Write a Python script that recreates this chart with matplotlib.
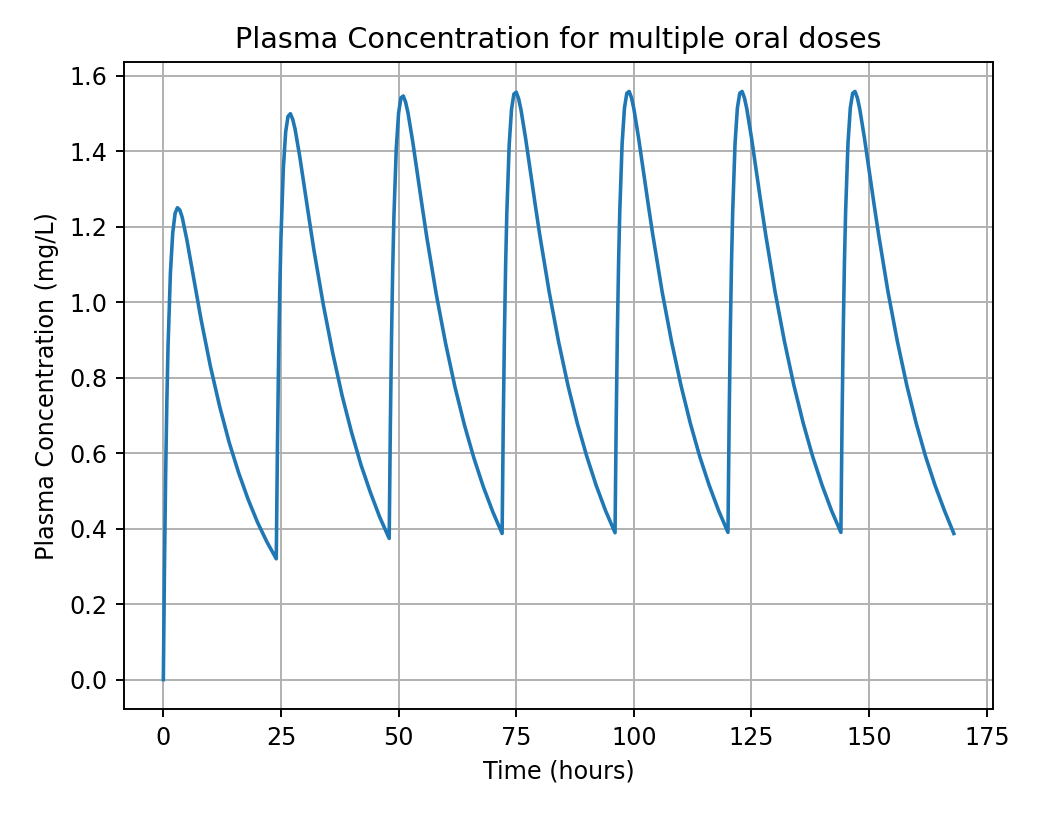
import numpy as np
import matplotlib
matplotlib.use("Agg")
import matplotlib.pyplot as plt

hours_after_dose = [0, 0.25, 0.5, 0.75, 1, 1.5, 2, 2.5, 3, 3.5, 4, 5, 6, 7, 8,
                    10, 12, 14, 16, 18, 20, 22, 24]

# one oral dose every 24 h
dose_times = [0, 24, 48, 72, 96, 120, 144]

# plasma concentration (mg/L) for each dosing interval
dose1_conc = [0.000, 0.309, 0.551, 0.739, 0.883, 1.077, 1.184, 1.235, 1.250, 1.244,
              1.225, 1.165, 1.095, 1.025, 0.955, 0.830, 0.722, 0.628, 0.548, 0.478,
              0.417, 0.365, 0.320]
dose2_conc = [0.320, 0.620, 0.853, 1.034, 1.171, 1.354, 1.451, 1.492, 1.499, 1.484,
              1.458, 1.385, 1.302, 1.219, 1.138, 0.993, 0.865, 0.752, 0.655, 0.569,
              0.496, 0.430, 0.374]
dose3_conc = [0.374, 0.676, 0.909, 1.089, 1.225, 1.406, 1.501, 1.541, 1.546, 1.529,
              1.501, 1.425, 1.339, 1.254, 1.171, 1.021, 0.890, 0.774, 0.674, 0.587,
              0.511, 0.445, 0.387]
dose4_conc = [0.387, 0.687, 0.921, 1.100, 1.236, 1.416, 1.511, 1.551, 1.556, 1.539,
              1.510, 1.433, 1.347, 1.261, 1.178, 1.027, 0.895, 0.779, 0.678, 0.591,
              0.514, 0.447, 0.389]
dose5_conc = [0.389, 0.690, 0.923, 1.103, 1.238, 1.419, 1.514, 1.553, 1.558, 1.541,
              1.512, 1.435, 1.348, 1.263, 1.180, 1.028, 0.896, 0.780, 0.679, 0.591,
              0.515, 0.448, 0.390]
dose6_conc = [0.390, 0.690, 0.923, 1.103, 1.238, 1.419, 1.514, 1.553, 1.558, 1.541,
              1.512, 1.435, 1.348, 1.263, 1.180, 1.028, 0.896, 0.780, 0.679, 0.591,
              0.515, 0.448, 0.390]
dose7_conc = [0.390, 0.690, 0.923, 1.103, 1.238, 1.419, 1.514, 1.553, 1.558, 1.541,
              1.512, 1.435, 1.348, 1.263, 1.180, 1.028, 0.896, 0.780, 0.679, 0.591,
              0.515, 0.448, 0.387]

cycles = [dose1_conc, dose2_conc, dose3_conc, dose4_conc, dose5_conc, dose6_conc, dose7_conc]

# stitch the intervals into one time course
time = []
conc = []
for start, values in zip(dose_times, cycles):
    time.extend(start + h for h in hours_after_dose)
    conc.extend(values)
time = np.array(time)
conc = np.array(conc)

fig = plt.figure(figsize=(1037 / 172, 816 / 172), dpi=172)
ax = fig.add_axes([0.1194, 0.1311, 0.9579 - 0.1194, 0.924 - 0.1311])
ax.plot(time, conc)
ax.set_title("Plasma Concentration for multiple oral doses")
ax.set_xlabel("Time (hours)")
ax.set_ylabel("Plasma Concentration (mg/L)")
ax.grid(True)

fig.savefig("out.png", dpi=172)
